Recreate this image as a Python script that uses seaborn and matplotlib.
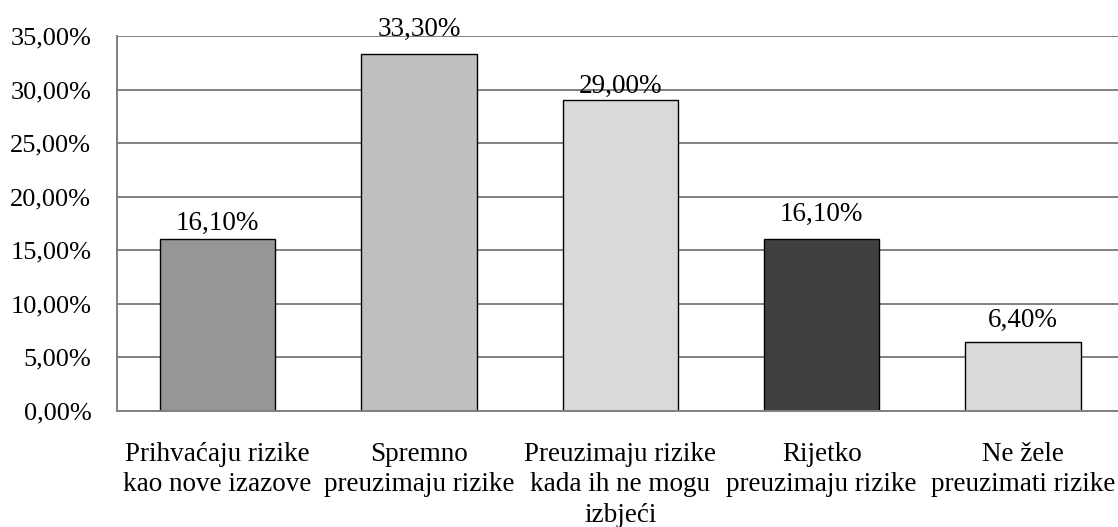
import matplotlib
matplotlib.use("Agg")
import matplotlib.pyplot as plt
import seaborn as sns
import pandas as pd
from matplotlib.ticker import FuncFormatter, MultipleLocator

categories = [
    "Prihvaćaju rizike\nkao nove izazove",
    "Spremno\npreuzimaju rizike",
    "Preuzimaju rizike\nkada ih ne mogu\nizbjeći",
    "Rijetko\npreuzimaju rizike",
    "Ne žele\npreuzimati rizike",
]
values = [16.10, 33.30, 29.00, 16.10, 6.40]
bar_colors = ["#969696", "#bfbfbf", "#d9d9d9", "#404040", "#d9d9d9"]
label_gap_px = [9, 18, 7, 17.5, 16]

sns.set_style("white")
plt.rcParams["font.family"] = ["Liberation Serif", "DejaVu Serif"]

df = pd.DataFrame({"cat": categories, "val": values})

fig = plt.figure(figsize=(11.18, 5.27), dpi=100)
ax = fig.add_axes([117 / 1118, 1 - 411 / 527, (1123.7 - 117) / 1118, (411 - 36) / 527])

sns.barplot(data=df, x="cat", y="val", hue="cat", palette=bar_colors,
            legend=False, width=0.573, edgecolor="black", linewidth=1.0,
            saturation=1, ax=ax)

ax.set_ylim(0, 35)
ax.set_xlim(-0.5, 4.5)
ax.yaxis.set_major_locator(MultipleLocator(5))
ax.yaxis.set_major_formatter(FuncFormatter(lambda v, p: f"{v:.2f}".replace(".", ",") + "%"))
ax.set_axisbelow(True)
ax.grid(axis="y", color="#808080", linewidth=1.4)
ax.grid(axis="x", visible=False)
for s in ["top", "right"]:
    ax.spines[s].set_visible(False)
for s in ["left", "bottom"]:
    ax.spines[s].set_color("#808080")
    ax.spines[s].set_linewidth(1.4)
ax.set_xlabel("")
ax.set_ylabel("")
ax.tick_params(axis="y", length=0, pad=18.5, labelsize=19, labelcolor="black")
ax.tick_params(axis="x", length=0, pad=22, labelsize=19.5, labelcolor="black")
for t in ax.get_xticklabels():
    t.set_linespacing(1.3)

for i, (v, g) in enumerate(zip(values, label_gap_px)):
    ax.annotate(f"{v:.2f}".replace(".", ",") + "%", xy=(i, v),
                xytext=(0, g * 0.72), textcoords="offset points",
                ha="center", va="baseline", fontsize=19.5, color="black")

fig.savefig("out.png", dpi=100)
